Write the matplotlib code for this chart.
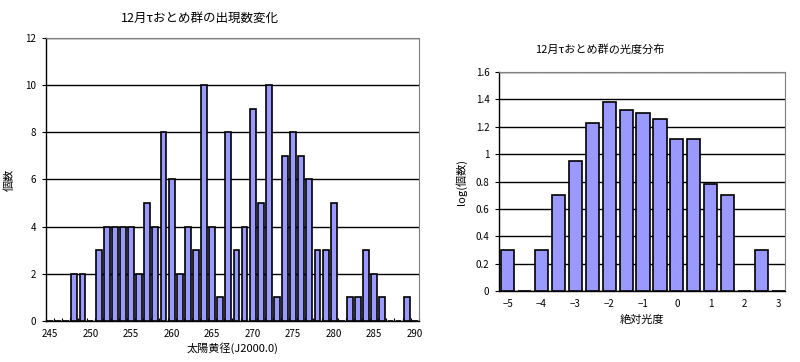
import matplotlib
matplotlib.use('Agg')
import matplotlib.pyplot as plt
import numpy as np

plt.rcParams['font.family'] = ['Noto Sans CJK JP', 'DejaVu Sans']

# left chart: counts per solar longitude (deg)
longitude = list(range(245, 291))
counts = [0, 0, 0, 2, 2, 0, 3, 4, 4, 4,
          4, 2, 5, 4, 8, 6, 2, 4, 3, 10,
          4, 1, 8, 3, 4, 9, 5, 10, 1, 7,
          8, 7, 6, 3, 3, 5, 0, 1, 1, 3,
          2, 1, 0, 0, 1, 0]
long_ticks = [245, 250, 255, 260, 265, 270, 275, 280, 285, 290]

# right chart: log(count) per absolute magnitude
magnitude = [-5, -4.5, -4, -3.5, -3, -2.5, -2, -1.5, -1, -0.5,
             0, 0.5, 1, 1.5, 2, 2.5, 3]
log_count = [0.30, 0, 0.30, 0.70, 0.95, 1.23, 1.38, 1.32, 1.30, 1.26,
             1.11, 1.11, 0.78, 0.70, 0, 0.30, 0]
mag_ticks = [-5, -4, -3, -2, -1, 0, 1, 2, 3]

bar_color = '#9999ff'

fig = plt.figure(figsize=(8, 3.62), dpi=100)

def style(ax):
    for s in ['top', 'right']:
        ax.spines[s].set_color('#808080')
        ax.spines[s].set_linewidth(0.8)
        ax.spines[s].set_linestyle((0, (1, 0.5)))
    for s in ['left', 'bottom']:
        ax.spines[s].set_color('black')
        ax.spines[s].set_linewidth(1)
    ax.yaxis.grid(True, color='black', linewidth=1)
    ax.set_axisbelow(True)
    ax.tick_params(axis='y', labelsize=7, length=3, width=0.8, pad=4)
    ax.tick_params(axis='x', labelsize=7, length=0, pad=6)

# left
ax1 = fig.add_axes([0.0575, 0.1133, 0.466, 0.782])
ax1.bar(longitude, counts, width=0.72, color=bar_color, edgecolor='black', linewidth=1.2, zorder=3)
ax1.set_xlim(244.5, 290.5)
ax1.set_ylim(0, 12)
ax1.set_yticks(range(0, 13, 2))
ax1.set_xticks(long_ticks)
ax1.set_xticks(np.arange(244.5, 291, 1), minor=True)
ax1.tick_params(axis='x', which='minor', direction='in', length=2, width=0.8)
style(ax1)
ax1.set_xlabel('太陽黄径(J2000.0)', fontsize=8, labelpad=2)
ax1.set_ylabel('個数', fontsize=8)
ax1.yaxis.set_label_coords(-0.085, 0.5)
fig.text(0.25, 0.95, '12月τおとめ群の出現数変化', fontsize=9, ha='center', va='center')

# right
ax2 = fig.add_axes([0.624, 0.196, 0.3575, 0.605])
ax2.bar(magnitude, log_count, width=0.39, color=bar_color, edgecolor='black', linewidth=1.2, zorder=3)
ax2.set_xlim(-5.25, 3.2)
ax2.set_ylim(0, 1.6)
ax2.set_yticks(np.arange(0, 1.61, 0.2))
ax2.set_yticklabels(['0', '0.2', '0.4', '0.6', '0.8', '1', '1.2', '1.4', '1.6'])
ax2.set_xticks(mag_ticks)
ax2.set_xticklabels([str(m).replace('-', '−') for m in mag_ticks])
style(ax2)
ax2.set_xlabel('絶対光度', fontsize=8, labelpad=4)
ax2.set_ylabel('log(個数)', fontsize=8, labelpad=6)
fig.text(0.75, 0.862, '12月τおとめ群の光度分布', fontsize=8, ha='center', va='center')

fig.savefig('out.png', dpi=100)
